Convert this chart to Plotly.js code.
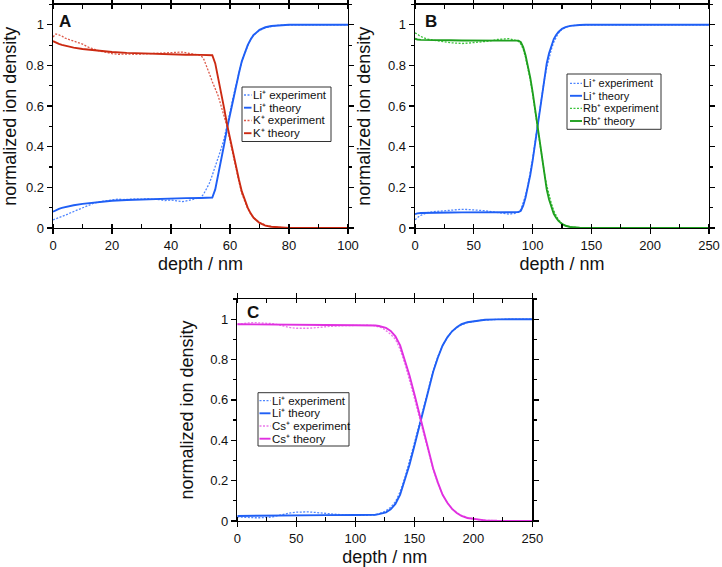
<!DOCTYPE html>
<html>
<head>
<meta charset="utf-8">
<script src="https://cdn.plot.ly/plotly-3.0.1.min.js"></script>
<style>html,body{margin:0;padding:0;background:#fff;}#plot{width:722px;height:567px;}</style>
</head>
<body>
<div id="plot"></div>
<script>
// ---------------- DATA ----------------
// Panel A (Li+ / K+), depth in nm
const aTheoryDepth = [0,1,2,3,5,7,10,15,20,25,30,35,40,45,50,53,54,55,56,57,58,59,60,61,62,63,64,65,66,67,68,70,72,74,76,78,80,85,90,95,100];
const aLiTheory    = [0.08,0.088,0.094,0.099,0.106,0.112,0.119,0.128,0.134,0.138,0.141,0.143,0.145,0.147,0.148,0.149,0.15,0.19,0.26,0.33,0.41,0.49,0.56,0.63,0.70,0.76,0.82,0.865,0.90,0.928,0.95,0.975,0.988,0.994,0.997,0.999,1,1,1,1,1];
const aKTheory     = [0.92,0.912,0.906,0.901,0.894,0.888,0.881,0.872,0.866,0.862,0.859,0.857,0.855,0.853,0.852,0.851,0.85,0.81,0.74,0.67,0.59,0.51,0.44,0.37,0.30,0.24,0.18,0.135,0.10,0.072,0.05,0.025,0.012,0.006,0.003,0.001,0,0,0,0,0];
const aExpDepth    = [0,1,2,3,4,5,6,8,10,12,14,16,18,20,22,24,26,28,30,32,34,36,38,40,42,44,46,48,50,51,52,53,54,55,56,57,58,59,60,61,62,63,64,65,66,67,68,70,72,74,76,78,80,85,90,95,100];
const aLiExp       = [0.04,0.045,0.05,0.055,0.06,0.068,0.075,0.088,0.10,0.113,0.123,0.13,0.135,0.139,0.142,0.14,0.142,0.143,0.142,0.144,0.141,0.14,0.135,0.138,0.133,0.13,0.136,0.142,0.15,0.165,0.19,0.22,0.26,0.30,0.34,0.39,0.44,0.50,0.57,0.64,0.70,0.76,0.82,0.86,0.90,0.93,0.95,0.972,0.986,0.993,0.997,0.999,1,1,1,1,1];
const aKExp        = [0.94,0.955,0.95,0.945,0.935,0.93,0.925,0.915,0.905,0.89,0.88,0.87,0.865,0.858,0.855,0.857,0.856,0.855,0.856,0.857,0.858,0.862,0.86,0.863,0.865,0.866,0.86,0.855,0.85,0.835,0.80,0.76,0.72,0.685,0.65,0.60,0.55,0.50,0.43,0.36,0.29,0.23,0.17,0.13,0.095,0.07,0.05,0.028,0.014,0.007,0.003,0.001,0,0,0,0,0];

// Panel B (Li+ / Rb+)
const bTheoryDepth = [0,2,5,10,20,30,40,50,60,70,80,88,90,92,94,96,98,100,102,104,106,108,110,112,114,116,118,120,122,125,128,132,136,140,145,150,175,200,225,250];
const bLiTheory    = [0.068,0.072,0.074,0.075,0.076,0.076,0.077,0.077,0.077,0.078,0.078,0.078,0.085,0.11,0.15,0.2,0.26,0.33,0.41,0.49,0.58,0.66,0.74,0.81,0.86,0.90,0.93,0.95,0.965,0.98,0.989,0.995,0.998,0.999,1,1,1,1,1,1];
const bRbTheory    = [0.932,0.928,0.926,0.925,0.924,0.924,0.923,0.923,0.923,0.922,0.922,0.922,0.915,0.89,0.85,0.80,0.74,0.67,0.59,0.51,0.42,0.34,0.26,0.19,0.14,0.10,0.07,0.05,0.035,0.02,0.011,0.005,0.002,0.001,0,0,0,0,0,0];
const bExpDepth    = [0,2,4,6,8,10,15,20,25,30,35,40,45,50,55,60,65,70,75,80,85,88,90,92,94,96,98,100,102,104,106,108,110,112,114,116,118,120,122,125,128,132,136,140,145,150,175,200,225,250];
const bLiExp       = [0.04,0.05,0.06,0.065,0.07,0.075,0.08,0.083,0.086,0.088,0.09,0.092,0.091,0.09,0.087,0.085,0.08,0.075,0.07,0.068,0.072,0.08,0.09,0.12,0.16,0.21,0.27,0.34,0.42,0.50,0.58,0.66,0.73,0.79,0.84,0.88,0.915,0.94,0.96,0.978,0.988,0.995,0.998,0.999,1,1,1,1,1,1];
const bRbExp       = [0.96,0.955,0.945,0.94,0.935,0.93,0.925,0.92,0.915,0.912,0.91,0.908,0.91,0.912,0.915,0.918,0.922,0.928,0.93,0.932,0.925,0.918,0.905,0.88,0.84,0.79,0.73,0.66,0.58,0.50,0.42,0.34,0.27,0.21,0.16,0.12,0.085,0.06,0.04,0.022,0.012,0.005,0.002,0.001,0,0,0,0,0,0];

// Panel C (Li+ / Cs+)
const cTheoryDepth = [0,10,25,50,75,100,110,117,120,123,126,130,134,138,142,146,150,154,158,162,166,170,174,178,182,186,190,195,200,205,210,220,230,240,250];
const cLiTheory    = [0.025,0.026,0.027,0.028,0.029,0.03,0.03,0.031,0.034,0.038,0.043,0.058,0.085,0.13,0.20,0.28,0.37,0.46,0.56,0.65,0.74,0.81,0.87,0.91,0.94,0.96,0.975,0.985,0.99,0.994,0.997,0.999,1,1,1];
const cCsTheory    = [0.975,0.974,0.973,0.972,0.971,0.97,0.97,0.969,0.966,0.962,0.957,0.942,0.915,0.87,0.80,0.72,0.63,0.54,0.44,0.35,0.26,0.19,0.13,0.09,0.06,0.04,0.025,0.015,0.01,0.006,0.003,0.001,0,0,0];
const cExpDepth    = [0,5,10,15,20,25,30,35,40,45,50,55,60,65,70,75,80,90,100,110,115,118,121,124,127,130,134,138,142,146,150,154,158,162,166,170,174,178,182,186,190,195,200,205,210,215,220,230,240,250];
const cLiExp       = [0.02,0.018,0.017,0.016,0.016,0.017,0.02,0.028,0.035,0.04,0.044,0.046,0.045,0.043,0.04,0.037,0.034,0.03,0.028,0.028,0.029,0.032,0.038,0.045,0.055,0.068,0.095,0.145,0.215,0.295,0.385,0.475,0.57,0.66,0.745,0.815,0.87,0.91,0.94,0.958,0.972,0.983,0.99,0.994,0.996,0.998,0.999,1,1,1];
const cCsExp       = [0.975,0.98,0.982,0.983,0.982,0.98,0.978,0.972,0.965,0.958,0.955,0.954,0.955,0.957,0.96,0.963,0.965,0.968,0.97,0.97,0.969,0.966,0.96,0.952,0.94,0.925,0.90,0.85,0.78,0.70,0.61,0.52,0.43,0.34,0.255,0.185,0.13,0.09,0.06,0.042,0.028,0.017,0.01,0.006,0.004,0.002,0.001,0,0,0];

const legendA = ["Li⁺ experiment","Li⁺ theory","K⁺ experiment","K⁺ theory"];
const legendB = ["Li⁺ experiment","Li⁺ theory","Rb⁺ experiment","Rb⁺ theory"];
const legendC = ["Li⁺ experiment","Li⁺ theory","Cs⁺ experiment","Cs⁺ theory"];
const panelLabels = ["A","B","C"];
const xTitle = "depth / nm";
const yTitle = "normalized ion density";

// ---------------- STYLE ----------------
const W = 722, H = 567;
const FONT = "Liberation Sans, Arial, Helvetica, sans-serif";
const col = {
  li: "#1f5ff5", liExp: "#4f86ff",
  k: "#cc2a12", kExp: "#dd5a4a",
  rb: "#1fa01f", rbExp: "#3cc43c",
  cs: "#e030e0", csExp: "#ea7aea"
};
const DOT = "2px,1.5px";
const px = x => x / W;
const py = y => 1 - y / H;

function exp(x, y, name, color, xa, ya) {
  return {x, y, name, type: "scatter", mode: "lines", xaxis: xa, yaxis: ya,
          line: {color, width: 1.3, dash: DOT}, showlegend: false, hoverinfo: "skip"};
}
function th(x, y, name, color, xa, ya) {
  return {x, y, name, type: "scatter", mode: "lines", xaxis: xa, yaxis: ya,
          line: {color, width: 1.9}, showlegend: false, hoverinfo: "skip"};
}

const traces = [
  exp(aExpDepth, aLiExp, "Li+ experiment", col.liExp, "x", "y"),
  th(aTheoryDepth, aLiTheory, "Li+ theory", col.li, "x", "y"),
  exp(aExpDepth, aKExp, "K+ experiment", col.kExp, "x", "y"),
  th(aTheoryDepth, aKTheory, "K+ theory", col.k, "x", "y"),
  exp(bExpDepth, bLiExp, "Li+ experiment", col.liExp, "x2", "y2"),
  th(bTheoryDepth, bLiTheory, "Li+ theory", col.li, "x2", "y2"),
  exp(bExpDepth, bRbExp, "Rb+ experiment", col.rbExp, "x2", "y2"),
  th(bTheoryDepth, bRbTheory, "Rb+ theory", col.rb, "x2", "y2"),
  exp(cExpDepth, cLiExp, "Li+ experiment", col.liExp, "x3", "y3"),
  th(cTheoryDepth, cLiTheory, "Li+ theory", col.li, "x3", "y3"),
  exp(cExpDepth, cCsExp, "Cs+ experiment", col.csExp, "x3", "y3"),
  th(cTheoryDepth, cCsTheory, "Cs+ theory", col.cs, "x3", "y3")
];

function xAxis(domainPx, max, dtick, minorDtick, anchor) {
  return {
    domain: [px(domainPx[0]), px(domainPx[1])], anchor, range: [0, max],
    dtick, tick0: 0, ticks: "outside", ticklen: 5, tickwidth: 1.2, tickcolor: "#000",
    minor: {dtick: minorDtick, ticks: "inside", ticklen: 4, tickwidth: 1.2, tickcolor: "#000", showgrid: false},
    showline: true, linecolor: "#000", linewidth: 1.4, mirror: "ticks",
    showgrid: false, zeroline: false, fixedrange: true,
    tickfont: {family: FONT, size: 13, color: "#111"},
    title: {text: xTitle, font: {family: FONT, size: 18, color: "#111"}, standoff: 5}
  };
}
function yAxis(domainPx, anchor) {
  return {
    domain: [py(domainPx[1]), py(domainPx[0])], anchor, range: [0, 1.1],
    dtick: 0.2, tick0: 0, ticks: "outside", ticklen: 5, tickwidth: 1.2, tickcolor: "#000",
    minor: {dtick: 0.1, ticks: "outside", ticklen: 3, tickwidth: 1.2, tickcolor: "#000", showgrid: false},
    showline: true, linecolor: "#000", linewidth: 1.4, mirror: "ticks",
    showgrid: false, zeroline: false, fixedrange: true,
    tickfont: {family: FONT, size: 13, color: "#111"},
    title: {text: yTitle, font: {family: FONT, size: 18, color: "#111"}, standoff: 12}
  };
}

const annotations = [];
const shapes = [];

// panel letters
[[58, 11, 0], [424, 11, 1], [246, 302, 2]].forEach(([x, y, i]) => {
  annotations.push({xref: "paper", yref: "paper", x: px(x), y: py(y), xanchor: "left", yanchor: "top",
    text: "<b>" + panelLabels[i] + "</b>", showarrow: false, borderpad: 0,
    font: {family: FONT, size: 17, color: "#111"}});
});

// custom legends: box [x0,y0,x1,y1], row centers, sample [x0,x1], font size
function legend(labels, colors, dashes, box, rows, sample, fsize) {
  shapes.push({type: "rect", xref: "paper", yref: "paper",
    x0: px(box[0]), y0: py(box[1]), x1: px(box[2]), y1: py(box[3]),
    line: {color: "#333", width: 1}, fillcolor: "#fff", layer: "above"});
  labels.forEach((t, i) => {
    shapes.push({type: "line", xref: "paper", yref: "paper",
      x0: px(sample[0]), x1: px(sample[1]), y0: py(rows[i]), y1: py(rows[i]),
      line: {color: colors[i], width: dashes[i] === "solid" ? 1.9 : 1.3, dash: dashes[i]}, layer: "above"});
    annotations.push({xref: "paper", yref: "paper", x: px(sample[1]), y: py(rows[i]),
      xanchor: "left", yanchor: "middle", text: t, showarrow: false, borderpad: 0,
      font: {family: FONT, size: fsize, color: "#111"}});
  });
}
const dashes = [DOT, "solid", DOT, "solid"];
legend(legendA, [col.liExp, col.li, col.kExp, col.k], dashes, [242, 87, 331, 141.5], [95, 107.7, 120.5, 133.2], [244, 251.5], 11.5);
legend(legendB, [col.liExp, col.li, col.rbExp, col.rb], dashes, [567, 74, 661, 129.3], [83.3, 95.8, 108.3, 121], [570, 582], 11);
legend(legendC, [col.liExp, col.li, col.csExp, col.cs], dashes, [258, 392.7, 349, 446], [400.7, 413.3, 426, 438.7], [259.5, 270.5], 11.5);

const layout = {
  width: W, height: H,
  margin: {l: 0, r: 0, t: 0, b: 0, autoexpand: false},
  paper_bgcolor: "#fff", plot_bgcolor: "#fff",
  showlegend: false,
  font: {family: FONT, color: "#111"},
  xaxis: xAxis([53, 348], 100, 20, 10, "y"),
  yaxis: yAxis([4.5, 228], "x"),
  xaxis2: xAxis([415, 709], 250, 50, 25, "y2"),
  yaxis2: yAxis([4.5, 228], "x2"),
  xaxis3: xAxis([237.3, 532.3], 250, 50, 25, "y3"),
  yaxis3: yAxis([299, 521], "x3"),
  annotations, shapes
};

Plotly.newPlot("plot", traces, layout, {displayModeBar: false, staticPlot: true});
</script>
</body>
</html>
